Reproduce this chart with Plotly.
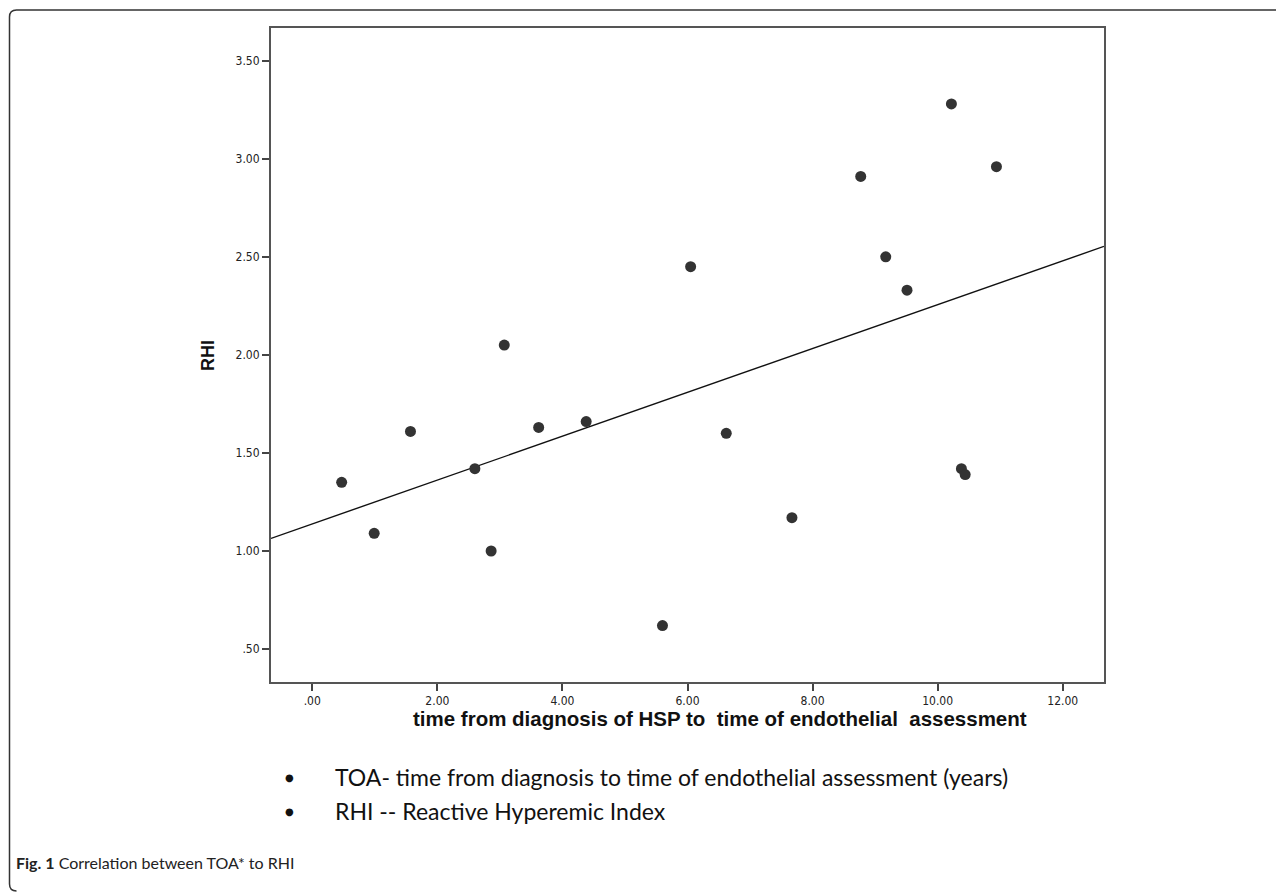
import plotly.graph_objects as go

# ---- data ----
toa_years = [0.47, 0.99, 1.57, 2.60, 2.86, 3.07, 3.62, 4.38, 5.60, 6.05, 6.62,
             7.67, 8.77, 9.17, 9.51, 10.22, 10.38, 10.44, 10.94]
rhi_values = [1.35, 1.09, 1.61, 1.42, 1.00, 2.05, 1.63, 1.66, 0.62, 2.45, 1.60,
              1.17, 2.91, 2.50, 2.33, 3.28, 1.42, 1.39, 2.96]
fit_intercept = 1.138
fit_slope = 0.1118
x_tick_vals = [0, 2, 4, 6, 8, 10, 12]
x_tick_text = [".00", "2.00", "4.00", "6.00", "8.00", "10.00", "12.00"]
y_tick_vals = [0.5, 1.0, 1.5, 2.0, 2.5, 3.0, 3.5]
y_tick_text = [".50", "1.00", "1.50", "2.00", "2.50", "3.00", "3.50"]
x_range = [-0.66, 12.66]
y_range = [0.332, 3.667]

# page is offset by the browser's default 8px body margin
OFF = 8
PAGE_W, PAGE_H = 1284, 896
W, H = PAGE_W - OFF, PAGE_H - OFF
# plot area in page pixels: x 271..1104, y 28..682
L, T = 271 - OFF, 28 - OFF
R, B = PAGE_W - 1104, PAGE_H - 682
pw, ph = W - L - R, H - T - B


def px(xp):
    return (xp - OFF - L) / pw


def py(yp):
    return (H - B - (yp - OFF)) / ph


fit_x = [x_range[0], x_range[1]]
fit_y = [fit_intercept + fit_slope * v for v in fit_x]

fig = go.Figure()
fig.add_trace(go.Scatter(x=fit_x, y=fit_y, mode="lines",
                         line=dict(color="#111111", width=1.4),
                         hoverinfo="skip", showlegend=False))
fig.add_trace(go.Scatter(x=toa_years, y=rhi_values, mode="markers",
                         marker=dict(color="#333333", size=11, line=dict(width=0)),
                         showlegend=False))

axis_common = dict(showgrid=False, zeroline=False, showline=True, mirror=True,
                   linecolor="#555555", linewidth=2, ticks="outside", ticklen=7,
                   tickwidth=2, tickcolor="#444444",
                   tickfont=dict(family="DejaVu Sans Condensed, DejaVu Sans", size=12, color="#222222"))

fig.update_xaxes(range=x_range, tickvals=x_tick_vals, ticktext=x_tick_text, **axis_common)
fig.update_yaxes(range=y_range, tickvals=y_tick_vals, ticktext=y_tick_text, **axis_common)

annotations = [
    dict(text="<b>time from diagnosis of HSP to  time of endothelial  assessment</b>",
         x=px(720), y=py(718), xanchor="center",
         font=dict(family="Liberation Sans, Arial", size=20.5, color="#111111")),
    dict(text="<b>RHI</b>", x=px(208), y=py(356), xanchor="center", textangle=-90,
         font=dict(family="Liberation Sans, Arial", size=18, color="#111111")),
    dict(text="●", x=px(289), y=py(777), xanchor="center",
         font=dict(family="DejaVu Sans", size=10, color="#111111")),
    dict(text="●", x=px(289), y=py(811), xanchor="center",
         font=dict(family="DejaVu Sans", size=10, color="#111111")),
    dict(text="TOA- time from diagnosis to time of endothelial assessment (years)",
         x=px(333), y=py(777), xanchor="left",
         font=dict(family="Lato, Open Sans", size=23, color="#111111")),
    dict(text="RHI -- Reactive Hyperemic Index",
         x=px(333), y=py(811), xanchor="left",
         font=dict(family="Lato, Open Sans", size=23, color="#111111")),
    dict(text="<b>Fig. 1</b> Correlation between TOA* to RHI",
         x=px(14), y=py(862), xanchor="left",
         font=dict(family="Lato, Open Sans", size=16, color="#222222")),
]
for a in annotations:
    a.update(xref="paper", yref="paper", showarrow=False, yanchor="middle")

# outer figure frame: top rule and left edge with rounded corners
x0, y0, y1, rad = 9.5, 10, 891, 7
frame_path = (f"M {px(PAGE_W + 20)},{py(y0)} L {px(x0 + rad)},{py(y0)} "
              f"Q {px(x0)},{py(y0)} {px(x0)},{py(y0 + rad)} "
              f"L {px(x0)},{py(y1 - rad)} Q {px(x0)},{py(y1)} {px(x0 + rad)},{py(y1)}")

fig.update_layout(
    width=W, height=H,
    margin=dict(l=L, r=R, t=T, b=B),
    plot_bgcolor="white", paper_bgcolor="white",
    annotations=annotations,
    shapes=[dict(type="path", path=frame_path, xref="paper", yref="paper",
                 line=dict(color="#333333", width=1.5))],
)

fig.write_html("out.html")
